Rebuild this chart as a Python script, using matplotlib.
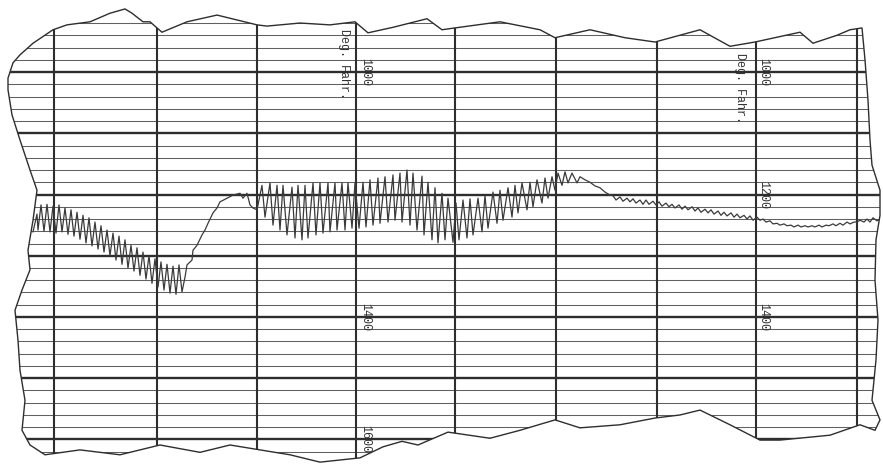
import matplotlib
matplotlib.use("Agg")
import matplotlib.pyplot as plt
from matplotlib.patches import Polygon
import numpy as np

# ---- data: recorder trace (time in minutes, temperature in Deg. Fahr.) ----
swing1_t = [7.8, 8.2, 8.3, 8.6, 8.9, 9.2, 9.5, 9.8, 10.1, 10.4, 10.7, 11.0, 11.3, 11.6, 11.9,
            12.2, 12.5, 12.8, 13.1, 13.4, 13.7, 14.0, 14.3, 14.6, 14.9, 15.2, 15.5, 15.8, 16.1,
            16.4, 16.7, 17.0, 17.3, 17.6, 17.9, 18.2, 18.5, 18.8, 19.1, 19.4, 19.7, 20.0, 20.3,
            20.6, 20.9, 21.2, 21.5, 21.8, 22.1, 22.4, 22.7]
swing1_T = [1261, 1232, 1258, 1217, 1260, 1216, 1261, 1219, 1263, 1217, 1261, 1222, 1265, 1225, 1268,
            1229, 1273, 1234, 1279, 1238, 1284, 1245, 1289, 1251, 1294, 1258, 1300, 1263, 1307,
            1268, 1314, 1274, 1320, 1283, 1325, 1287, 1332, 1294, 1338, 1300, 1345, 1305, 1351,
            1310, 1356, 1314, 1361, 1317, 1363, 1315, 1359]

rise_t = [23.0, 23.2, 23.7, 23.8, 24.2, 24.7, 25.0, 25.3, 25.8, 26.2, 26.5, 27.2, 27.8, 28.5,
          28.8, 29.2, 29.5, 29.8, 30.2]
rise_T = [1335, 1315, 1307, 1291, 1283, 1266, 1258, 1247, 1230, 1222, 1212, 1206, 1201, 1198,
          1206, 1198, 1217, 1222, 1225]

swing2_t = [30.7, 31.0, 31.5, 31.8, 32.2, 32.5, 32.8, 33.2, 33.7, 34.0, 34.3, 34.7, 35.0, 35.3,
            35.8, 36.1, 36.5, 36.8, 37.3, 37.5, 38.0, 38.2, 38.7, 39.0, 39.3, 39.7, 40.0, 40.4,
            40.8, 41.1, 41.5, 41.8, 42.3, 42.5, 43.0, 43.3, 43.8, 44.0, 44.5, 44.7, 45.2, 45.5,
            45.8, 46.2, 46.7, 46.9, 47.3, 47.7, 48.0, 48.3, 48.7, 49.0, 49.3, 49.8, 50.1, 50.4,
            50.8, 51.2, 51.5, 51.8, 52.3, 52.7, 53.0, 53.3, 53.8, 54.2, 54.5, 54.8, 55.3, 55.7,
            56.0, 56.3, 56.7, 57.2, 57.5, 57.8, 58.2, 58.7, 59.0, 59.3, 59.7, 60.0, 60.3, 60.7,
            61.0, 61.3, 61.7, 62.2, 62.5]
swing2_T = [1185, 1237, 1181, 1250, 1185, 1258, 1185, 1266, 1188, 1271, 1185, 1274, 1185, 1271,
            1181, 1266, 1181, 1263, 1181, 1261, 1181, 1258, 1181, 1258, 1181, 1255, 1181, 1255,
            1180, 1253, 1176, 1250, 1173, 1247, 1171, 1245, 1168, 1242, 1165, 1245, 1160, 1250,
            1165, 1258, 1170, 1266, 1180, 1274, 1189, 1279, 1198, 1274, 1206, 1278, 1214, 1274,
            1209, 1271, 1207, 1266, 1206, 1261, 1202, 1255, 1196, 1247, 1193, 1242, 1189, 1237,
            1185, 1230, 1181, 1225, 1180, 1220, 1176, 1214, 1173, 1206, 1171, 1193, 1165, 1185,
            1163, 1181, 1165, 1181, 1171]

decay_t = [63.0, 63.5, 64.0, 64.5, 65.0, 65.5, 65.8, 66.1, 66.5, 66.8, 67.2, 67.5, 67.8, 68.1,
           68.5, 68.8, 69.1, 69.4, 69.8, 70.1, 70.4, 70.7, 71.1, 71.4, 71.7, 72.0, 72.4, 72.7,
           73.0, 73.3, 73.7, 74.0, 74.3, 74.6, 75.0, 75.3, 75.6, 75.9, 76.3, 76.6, 76.9, 77.2,
           77.6, 77.9, 78.2, 78.5, 78.9, 79.2, 79.5, 79.8, 80.2, 80.5, 80.8, 81.1, 81.5, 81.8,
           82.2, 82.5, 82.9, 83.2, 83.6, 83.9, 84.3, 84.6, 85.0, 85.3, 85.7, 86.0, 86.4, 86.7,
           87.1, 87.4, 87.8, 88.1, 88.5, 88.8, 89.2, 89.5, 89.9, 90.2, 90.5, 90.9, 91.2, 91.5,
           91.8, 92.2, 92.5]
decay_T = [1176, 1180, 1186, 1189, 1196, 1201, 1202, 1209, 1204, 1211, 1206, 1212, 1207, 1214,
           1209, 1216, 1209, 1216, 1211, 1217, 1212, 1219, 1214, 1220, 1216, 1222, 1217, 1224,
           1219, 1225, 1220, 1227, 1222, 1229, 1224, 1230, 1225, 1232, 1227, 1234, 1229, 1235,
           1230, 1237, 1232, 1238, 1234, 1240, 1235, 1242, 1237, 1242, 1240, 1245, 1243, 1248,
           1247, 1250, 1248, 1251, 1250, 1253, 1250, 1253, 1251, 1253, 1251, 1253, 1250, 1253,
           1250, 1251, 1248, 1251, 1247, 1250, 1245, 1248, 1245, 1245, 1242, 1245, 1240, 1245,
           1238, 1243, 1240]

# chart paper rulings
ruling_time = [9.9, 20.2, 30.2, 40.1, 50.0, 60.1, 70.2, 80.1, 90.2]
ruling_temp_major = [1000, 1100, 1200, 1300, 1400, 1500, 1600]
ruling_temp_minor = [t for t in range(900, 1661, 20) if t % 100 != 0]

# scale labels printed on the paper
scale_label_time = [41.0, 41.0, 41.0, 80.8, 80.8, 80.8]
scale_label_temp = [1000, 1400, 1600, 1000, 1200, 1400]
scale_label_text = ["1000", "1400", "1600", "1000", "1200", "1400"]
unit_label_time = [38.9, 78.5]
unit_label_temp = [987, 1026]

# torn paper edge
paper_t = [5.3, 5.8, 6.5, 7.8, 9.8, 11.2, 13.5, 15.5, 17.0, 17.7, 18.8, 19.5, 20.2, 20.7, 23.2,
           26.2, 30.2, 31.2, 34.5, 37.5, 40.0, 41.3, 43.8, 47.2, 48.7, 50.0, 54.5, 58.5, 60.0,
           63.5, 67.0, 70.0, 74.5, 77.5, 80.0, 84.5, 85.8, 88.2, 89.5, 90.7,
           91.0, 91.3, 91.5, 91.7, 92.5, 92.5, 92.1, 92.0, 92.3, 92.1, 91.7, 92.5, 92.0,
           90.5, 87.5, 82.5, 80.5, 77.5, 74.5, 72.5, 70.0, 66.5, 62.5, 60.0, 56.5, 53.5, 49.3,
           46.3, 44.7, 42.8, 40.5, 36.5, 33.5, 30.5, 27.5, 24.5, 20.5, 16.5, 12.5, 9.0, 7.5,
           6.7, 7.0, 6.5, 6.3, 6.0, 6.7, 7.5, 7.3, 7.8, 8.2, 7.5, 6.5, 5.7, 5.3]
paper_T = [1010, 985, 972, 953, 931, 923, 918, 904, 897, 904, 918, 918, 928, 935, 918,
           907, 923, 925, 920, 923, 918, 936, 927, 913, 931, 928, 918, 931, 944,
           931, 944, 951, 931, 958, 951, 935, 953, 940, 931, 928,
           980, 1046, 1111, 1152, 1193, 1234, 1274, 1340, 1405, 1470, 1536, 1568, 1585,
           1576, 1593, 1601, 1601, 1576, 1552, 1560, 1565, 1576, 1581, 1568, 1585, 1598, 1588,
           1609, 1603, 1612, 1630, 1637, 1625, 1617, 1609, 1621, 1609, 1625, 1617, 1625, 1609,
           1585, 1536, 1487, 1438, 1389, 1356, 1323, 1291, 1242, 1193, 1160, 1111, 1070, 1029]

# ---- figure ----
fig = plt.figure(figsize=(8.83, 4.75), dpi=100)
ax = fig.add_axes([0, 0, 1, 1])
ax.set_xlim(4.5, 92.8)
ax.set_ylim(1658, 882.4)
ax.axis("off")

ink = "#2e2e2e"
paper = Polygon(np.column_stack([paper_t, paper_T]), closed=True,
                facecolor="white", edgecolor="none", zorder=0)
ax.add_patch(paper)

minor = ax.hlines(ruling_temp_minor, 0, 100, colors="#606060", lw=0.75, zorder=1)
major = ax.hlines(ruling_temp_major, 0, 100, colors=ink, lw=1.7, zorder=1)
verts = ax.vlines(ruling_time, 800, 1700, colors=ink, lw=1.5, zorder=1)
for coll in (minor, major, verts):
    coll.set_clip_path(paper)

trace_t = swing1_t + rise_t + swing2_t + decay_t
trace_T = swing1_T + rise_T + swing2_T + decay_T
line, = ax.plot(trace_t, trace_T, color="#3a3a3a", lw=0.9, zorder=3)
line.set_clip_path(paper)

edge = Polygon(np.column_stack([paper_t, paper_T]), closed=True,
               facecolor="none", edgecolor=ink, lw=1.0, zorder=4)
ax.add_patch(edge)

for t, T, s in zip(scale_label_time, scale_label_temp, scale_label_text):
    ax.text(t, T, s, rotation=-90, ha="center", va="center", fontsize=8.5,
            family="Liberation Mono", color="#333333", zorder=5)
for t, T in zip(unit_label_time, unit_label_temp):
    ax.text(t, T, "Deg. Fahr.", rotation=-90, ha="center", va="center", fontsize=8.5,
            family="Liberation Mono", color="#333333", zorder=5)

fig.savefig("out.png", dpi=100, facecolor="white")
